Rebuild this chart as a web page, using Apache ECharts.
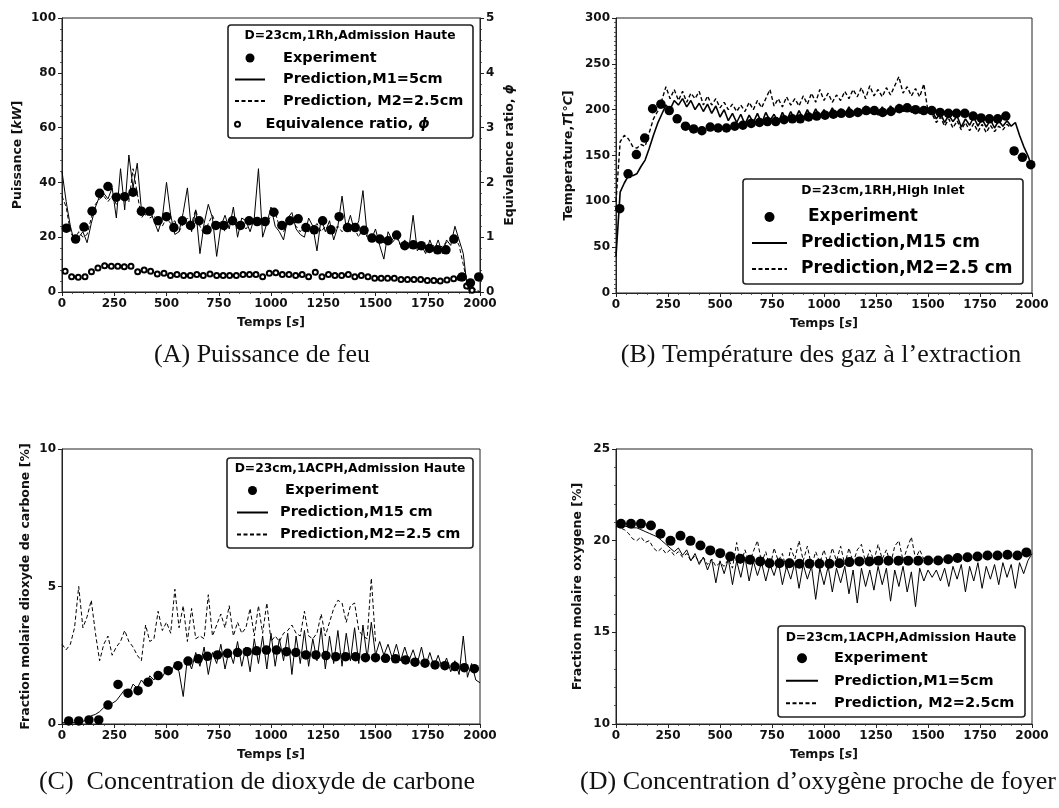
<!DOCTYPE html>
<html><head><meta charset="utf-8">
<script src="https://cdn.jsdelivr.net/npm/echarts@6/dist/echarts.min.js"></script>
<style>html,body{margin:0;padding:0;background:#fff}#c{width:1059px;height:808px}</style>
</head><body><div id="c"></div>
<script>
// ---------- shared time grid for prediction lines (s) ----------
const tLine = [0,20,40,60,80,100,120,140,160,180,200,220,240,260,280,300,320,340,360,380,
400,420,440,460,480,500,520,540,560,580,600,620,640,660,680,700,720,740,760,780,
800,820,840,860,880,900,920,940,960,980,1000,1020,1040,1060,1080,1100,1120,1140,1160,1180,
1200,1220,1240,1260,1280,1300,1320,1340,1360,1380,1400,1420,1440,1460,1480,1500,1520,1540,1560,1580,
1600,1620,1640,1660,1680,1700,1720,1740,1760,1780,1800,1820,1840,1860,1880,1900,1920,1940,1960,1980,2000];
const xTicks = [0,250,500,750,1000,1250,1500,1750,2000];

// ---------- (A) Puissance ----------
const expAT = [21,65,105,144,180,220,260,300,340,380,420,460,500,535,576,615,656,694,736,774,816,854,895,934,972,1014,1052,1090,1130,1167,1207,1247,1287,1326,1366,1403,1445,1483,1521,1560,1601,1640,1681,1719,1758,1797,1837,1875,1914,1954,1994];
const expAV = [23.3,19.3,23.7,29.5,36,38.5,34.6,34.8,36.4,29.5,29.5,26,27.5,23.5,26,24.3,26,22.7,24.3,24.3,26,24.3,26,25.7,25.7,29.1,24.3,26,26.7,23.5,22.7,26,22.7,27.5,23.5,23.5,22.5,19.7,19.3,18.7,20.8,16.9,17.2,16.9,15.9,15.4,15.4,19.3,5.5,3.3,5.5];
const predA1 = [44,33,24,18,20,22,18,25,31,35, 36,34,38,27,45,30,50,38,47,30, 28,30,26,22,27,40,28,21,22,29,
38,22,30,14,25,32,27,13,24,28, 23,31,20,27,26,22,27,45,20,25, 31,24,22,19,27,29,23,21,20,27,
24,15,27,22,26,19,24,35,23,28, 22,26,37,21,19,23,17,12,22,19, 21,17,19,16,28,15,17,14,19,15,
19,14,19,17,24,19,14,1,0,0, 0];
const predA2 = [35,31,22,19,22,20,21,27,32,34, 35,33,35,32,35,36,33,45,36,27, 29,27,28,25,24,27,25,26,22,25,
27,25,30,24,21,25,28,24,26,22, 27,25,24,26,23,25,27,24,26,25, 28,29,24,22,25,26,24,22,24,22,
23,25,22,24,22,23,24,22,24,22, 23,20,24,20,21,20,19,18,19,18, 20,17,16,17,16,17,16,15,16,17,
15,17,18,19,20,17,10,3,0,1, 0];
const phiT = [15,46,78,110,141,172,204,236,267,298,330,362,393,424,456,488,519,550,582,614,645,676,708,740,771,802,834,866,897,928,960,992,1023,1054,1086,1118,1149,1180,1212,1244,1275,1306,1338,1370,1401,1432,1464,1496,1527,1558,1590,1622,1653,1684,1716,1748,1779,1810,1842,1874,1905,1936,1962];
const phiV = [0.38,0.28,0.27,0.28,0.37,0.44,0.48,0.47,0.47,0.46,0.47,0.37,0.40,0.38,0.33,0.34,0.30,0.32,0.30,0.30,0.32,0.30,0.33,0.30,0.30,0.30,0.30,0.32,0.32,0.32,0.28,0.34,0.35,0.32,0.32,0.30,0.32,0.28,0.36,0.28,0.32,0.30,0.30,0.32,0.28,0.30,0.28,0.25,0.25,0.25,0.25,0.23,0.23,0.23,0.23,0.21,0.21,0.20,0.22,0.24,0.26,0.11,0.03];

// ---------- (B) Temperature ----------
const expBT = [18,58,98,138,176,216,256,294,334,373,413,453,491,531,571,610,650,690,728,768,808,848,886,926,965,1005,1045,1083,1123,1163,1203,1242,1282,1322,1362,1400,1440,1480,1518,1558,1598,1637,1677,1717,1755,1795,1835,1874,1914,1954,1994];
const expBV = [92,130,151,169,201,206,199,190,182,179,177,181,180,180,182,183,185,186,187,187,189,190,190,192,193,194,195,196,196,197,199,199,197,198,201,202,200,199,199,197,196,196,196,193,191,190,190,193,155,148,140];
const predB1 = [40,110,120,128,128,130,138,145,158,172, 185,195,205,200,210,205,212,203,210,200, 207,198,206,196,204,192,200,188,196,186,
195,184,194,186,196,185,197,188,195,186, 197,188,198,189,199,190,200,191,201,192, 200,193,202,192,201,194,203,193,202,195,
204,196,202,194,203,196,204,197,206,198, 205,197,203,196,201,197,198,190,196,186, 194,187,193,181,190,183,192,182,190,181,
189,180,188,182,188,182,186,172,160,150, 138];
const predB2 = [100,165,172,168,160,158,162,160,175,190, 198,210,225,212,222,210,220,208,218,212, 220,205,215,205,212,202,208,200,206,198,
205,198,208,200,210,202,212,222,204,212, 203,214,205,212,204,215,206,218,208,222, 210,218,208,216,210,220,212,222,214,224,
212,226,215,222,214,224,216,226,236,218, 225,215,223,214,228,198,195,186,192,182, 190,180,188,178,186,177,185,176,184,175,
183,176,182,178,184,180,null,null,null,null, null];

// ---------- (C) CO2 ----------
const expCT = [32,80,129,176,220,268,316,364,412,460,508,555,603,652,696,744,792,840,886,931,978,1026,1074,1119,1167,1215,1263,1310,1357,1405,1452,1500,1548,1596,1644,1689,1737,1785,1832,1880,1925,1973];
const expCV = [0.11,0.11,0.15,0.15,0.69,1.44,1.12,1.21,1.52,1.76,1.94,2.12,2.29,2.37,2.46,2.51,2.57,2.6,2.63,2.66,2.69,2.69,2.63,2.6,2.51,2.51,2.49,2.45,2.45,2.45,2.41,2.41,2.39,2.37,2.33,2.25,2.21,2.15,2.12,2.09,2.05,2.01];
const predC1 = [0.05,0.05,0.05,0.05,0.08,0.1,0.15,0.3,0.35,0.45, 0.6,0.7,0.75,0.85,1.05,1.25,1.1,1.45,1.3,1.6, 1.4,1.75,1.6,1.9,1.7,2.0,1.85,2.2,1.9,1.0,
2.4,2.0,2.6,2.1,2.8,1.8,2.6,2.2,2.9,2.0, 2.7,2.2,3.0,2.1,2.8,1.9,3.1,2.2,3.2,2.0, 3.3,2.1,3.1,2.3,3.3,1.8,3.2,2.2,3.4,2.1,
3.1,2.3,3.5,2.0,3.2,2.2,3.4,2.1,3.3,2.3, 3.5,2.2,3.6,2.4,3.7,2.5,3.0,2.5,2.9,2.4, 2.9,2.3,2.8,2.3,2.7,2.2,2.8,2.1,2.6,2.1,
2.5,2.0,2.4,1.9,2.3,1.8,3.2,1.7,2.2,1.6, 1.5];
const predC2 = [2.9,2.7,2.9,3.5,5.0,3.5,3.9,4.5,3.3,2.3, 2.9,3.2,2.5,2.8,3.0,3.4,3.0,2.8,2.5,2.3, 3.6,3.0,3.1,4.1,3.4,3.7,3.3,4.9,3.5,4.3,
3.0,4.2,3.1,3.2,3.1,4.7,3.2,3.6,4.0,3.5, 4.3,3.2,3.7,3.3,3.5,4.2,3.2,4.3,3.3,4.4, 3.0,3.2,3.0,3.3,3.4,3.6,3.3,3.2,4.1,3.2,
3.1,3.3,4.0,3.2,3.7,4.2,4.5,4.4,3.7,4.3, 4.4,3.4,3.2,3.1,5.3,3.0,null,null,null,null, null,null,null,null,null,null,null,null,null,null,
null,null,null,null,null,null,null,null,null,null, null];

// ---------- (D) O2 ----------
const expDT = [24,72,120,168,214,262,310,358,406,453,501,549,597,645,693,738,786,834,882,930,978,1026,1074,1122,1170,1218,1262,1310,1358,1405,1453,1501,1549,1597,1642,1690,1738,1786,1834,1882,1930,1973];
const expDV = [20.92,20.92,20.92,20.83,20.38,19.99,20.27,19.99,19.74,19.47,19.32,19.14,19.01,18.96,18.87,18.77,18.77,18.77,18.74,18.74,18.74,18.74,18.77,18.83,18.87,18.87,18.90,18.90,18.90,18.90,18.90,18.92,18.92,18.99,19.05,19.10,19.14,19.19,19.19,19.23,19.19,19.36];
const predD1 = [20.8,20.8,20.8,20.75,20.7,20.7,20.6,20.5,20.4,20.3, 20.2,20.0,19.8,19.6,19.4,19.6,19.2,19.5,18.9,19.3, 18.7,19.1,18.4,19.0,17.7,18.9,18.2,19.0,17.6,18.9,
18.0,19.1,17.8,18.9,18.1,18.8,17.8,18.7,18.1,18.9, 17.6,18.6,17.9,18.8,17.4,18.7,17.9,18.6,16.8,18.5, 17.6,18.6,17.2,18.5,17.7,18.6,17.1,18.4,16.6,18.5,
17.5,18.4,17.3,18.6,17.6,18.5,16.7,18.4,17.5,18.6, 17.2,18.3,16.4,18.5,17.8,18.4,18.0,18.4,17.8,18.5, 17.5,18.6,17.9,18.7,17.2,18.6,17.8,18.8,17.4,18.6,
17.9,18.7,17.6,18.8,18.0,18.7,17.4,18.8,18.2,18.9, 19.3];
const predD2 = [20.8,20.7,20.6,20.4,20.1,20.0,20.2,19.9,20.0,19.6, 19.4,19.6,19.3,19.5,19.2,19.4,19.1,19.3,18.9,19.2, 18.8,19.1,18.7,19.0,18.6,18.8,18.6,19.0,18.5,19.9,
18.7,19.5,18.8,19.4,20.0,18.8,19.4,18.5,19.6,18.9, 19.3,18.4,19.6,19.0,20.0,18.9,19.7,18.6,19.4,18.8, 19.5,18.7,19.6,18.9,19.7,18.7,19.6,18.8,19.5,19.8,
18.8,19.5,18.9,19.8,19.0,19.5,18.7,19.7,20.0,18.9, 19.6,20.2,19.0,19.5,19.0,null,null,null,null,null, null,null,null,null,null,null,null,null,null,null,
null,null,null,null,null,null,null,null,null,null, null];

// ---------- text ----------
const captions = ['(A) Puissance de feu', '(B) Température des gaz à l\u2019extraction',
  '(C)  Concentration de dioxyde de carbone', '(D) Concentration d\u2019oxygène proche de foyer'];
const legendTitles = ['D=23cm,1Rh,Admission Haute', 'D=23cm,1RH,High Inlet',
  'D=23cm,1ACPH,Admission Haute', 'D=23cm,1ACPH,Admission Haute'];

// ---------- build ----------
const zip = (a, b) => a.map((x, i) => [x, b[i]]);
const FONT = 'DejaVu Sans';
const BLACK = '#111';
const NAME_FS = 12.5;
const italicRich = { i: { fontStyle: 'italic', fontWeight: 'bold', fontFamily: FONT, fontSize: NAME_FS, color: BLACK } };

const grids = [
  { left: 62, top: 18, width: 418, height: 274 },
  { left: 616, top: 18, width: 416, height: 275 },
  { left: 62, top: 449, width: 418, height: 275 },
  { left: 616, top: 449, width: 416, height: 275 }
].map(g => Object.assign(g, { show: true, borderColor: '#222', borderWidth: 1, containLabel: false }));

const axisCommon = {
  axisLine: { show: true, onZero: false, lineStyle: { color: '#222', width: 1 } },
  axisTick: { show: true, inside: false, length: 4, lineStyle: { color: '#222', width: 1 } },
  minorTick: { show: true, splitNumber: 5, length: 2, lineStyle: { color: '#333', width: 0.8 } },
  splitLine: { show: false },
  minorSplitLine: { show: false },
  axisLabel: { fontFamily: FONT, fontWeight: 'bold', fontSize: 12, color: BLACK, margin: 6 },
  nameLocation: 'middle',
  nameTextStyle: { fontFamily: FONT, fontWeight: 'bold', fontSize: NAME_FS, color: BLACK, rich: italicRich }
};
function mk(extra) {
  const a = Object.assign({}, JSON.parse(JSON.stringify(axisCommon)), extra);
  a.axisLabel.formatter = v => String(v);
  return a;
}

const xAxes = [0, 1, 2, 3].map(gi => mk({
  type: 'value', gridIndex: gi, min: xTicks[0], max: xTicks[xTicks.length - 1], interval: 250,
  name: 'Temps [{i|s}]', nameGap: 24
}));

const yAxes = [
  mk({ type: 'value', gridIndex: 0, min: 0, max: 100, interval: 20, name: 'Puissance [{i|kW}]', nameGap: 38 }),
  mk({ type: 'value', gridIndex: 0, min: 0, max: 5, interval: 1, position: 'right', name: 'Equivalence ratio, {i|ϕ}', nameGap: 23 }),
  mk({ type: 'value', gridIndex: 1, min: 0, max: 300, interval: 50, name: 'Temperature,{i|T}[°{i|C}]', nameGap: 41 }),
  mk({ type: 'value', gridIndex: 2, min: 0, max: 10, interval: 5, name: 'Fraction molaire dioxyde de carbone [%]', nameGap: 30 }),
  mk({ type: 'value', gridIndex: 3, min: 10, max: 25, interval: 5, name: 'Fraction molaire oxygene [%]', nameGap: 32 })
];
yAxes[2].minorTick.splitNumber = 10;
yAxes[3].minorTick.show = false;

function expSeries(name, xi, yi, t, v, size) {
  return { type: 'scatter', name, xAxisIndex: xi, yAxisIndex: yi, data: zip(t, v), symbol: 'circle', symbolSize: size,
    itemStyle: { color: '#000', opacity: 1 }, z: 6, silent: true };
}
function lineSeries(name, xi, yi, v, dashed, width) {
  return { type: 'line', name, xAxisIndex: xi, yAxisIndex: yi, data: zip(tLine, v), symbol: 'none', showSymbol: false,
    connectNulls: false, lineStyle: { color: '#000', width: width, type: dashed ? [4, 2.5] : 'solid' },
    itemStyle: { color: '#000' }, z: dashed ? 3 : 4, silent: true, animation: false };
}

const series = [
  lineSeries('Prediction, M2=2.5cm', 0, 0, predA2, true, 1),
  lineSeries('Prediction,M1=5cm', 0, 0, predA1, false, 1),
  expSeries('Experiment', 0, 0, expAT, expAV, 9.5),
  { type: 'scatter', name: 'Equivalence ratio, ϕ', xAxisIndex: 0, yAxisIndex: 1, data: zip(phiT, phiV),
    symbol: 'emptyCircle', symbolSize: 5, itemStyle: { color: '#000', borderColor: '#000', borderWidth: 1, opacity: 1 }, z: 5, silent: true },

  lineSeries('Prediction,M2=2.5 cm', 1, 2, predB2, true, 1.4),
  lineSeries('Prediction,M15 cm', 1, 2, predB1, false, 1.6),
  expSeries('Experiment', 1, 2, expBT, expBV, 9.5),

  lineSeries('Prediction,M2=2.5 cm', 2, 3, predC2, true, 1),
  lineSeries('Prediction,M15 cm', 2, 3, predC1, false, 1),
  expSeries('Experiment', 2, 3, expCT, expCV, 9.5),

  lineSeries('Prediction, M2=2.5cm', 3, 4, predD2, true, 1),
  lineSeries('Prediction,M1=5cm', 3, 4, predD1, false, 1),
  expSeries('Experiment', 3, 4, expDT, expDV, 10)
];

const hideSym = { color: 'rgba(0,0,0,0)', borderColor: 'rgba(0,0,0,0)', borderWidth: 0, opacity: 0 };
function lg(left, top, itemW, itemH, fs, lh, items) {
  return { show: true, orient: 'vertical', left, top, itemWidth: itemW, itemHeight: itemH, itemGap: 0, padding: 0,
    selectedMode: false, z: 20, inactiveColor: '#000',
    textStyle: { fontFamily: FONT, fontWeight: 'bold', fontSize: fs, color: '#000', lineHeight: lh,
      rich: { i: { fontFamily: FONT, fontWeight: 'bold', fontStyle: 'italic', fontSize: fs, lineHeight: lh, color: '#000' } } },
    data: items.map(it => {
      const d = { name: it[0], textStyle: { padding: [0, 0, 0, it[2]] } };
      if (it[1]) d.icon = it[1]; else d.itemStyle = hideSym;
      return d;
    }) };
}
const legends = [
  lg(234, 47.25, 30, 9, 14.5, 21.5, [['Experiment', 'circle', 13], ['Prediction,M1=5cm', null, 13], ['Prediction, M2=2.5cm', null, 13]]),
  lg(234, 113.5, 30, 5, 14.5, 21.5, [['Equivalence ratio, ϕ', 'emptyCircle', 8]]),
  lg(751, 204, 35, 10, 17, 26, [['Experiment', 'circle', 16], ['Prediction,M15 cm', null, 9], ['Prediction,M2=2.5 cm', null, 9]]),
  lg(236, 479.5, 31, 9, 14.5, 22, [['Experiment', 'circle', 12], ['Prediction,M15 cm', null, 7], ['Prediction,M2=2.5 cm', null, 7]]),
  lg(785, 647, 32, 10, 14.5, 22.5, [['Experiment', 'circle', 11], ['Prediction,M1=5cm', null, 11], ['Prediction, M2=2.5cm', null, 11]])
];
legends[1].formatter = () => 'Equivalence ratio, {i|ϕ}';

const boxes = [[228, 25, 245, 113, 350, 36], [743, 179, 280, 105, 883, 191], [227, 458, 246, 90, 350, 469], [778, 626, 247, 91, 901, 638]];
const graphics = [];
boxes.forEach((b, i) => {
  graphics.push({ type: 'rect', z: 15, silent: true, shape: { x: b[0], y: b[1], width: b[2], height: b[3], r: 3 },
    style: { fill: '#fff', stroke: '#222', lineWidth: 1.6 } });
  graphics.push({ type: 'text', z: 21, silent: true, x: b[4], y: b[5],
    style: { text: legendTitles[i], font: 'bold 12.3px "DejaVu Sans"', fill: '#000', textAlign: 'center', textVerticalAlign: 'middle', verticalAlign: 'middle' } });
});
const capPos = [[262, 355], [821, 355], [257, 782], [818, 782]];
capPos.forEach((p, i) => {
  graphics.push({ type: 'text', z: 21, silent: true, x: p[0], y: p[1],
    style: { text: captions[i], font: '26px "Liberation Serif"', fill: '#111', textAlign: 'center', textVerticalAlign: 'middle', verticalAlign: 'middle' } });
});

const chart = echarts.init(document.getElementById('c'), null, { renderer: 'canvas', width: 1059, height: 808 });
chart.setOption({
  backgroundColor: '#fff',
  animation: false,
  grid: grids,
  xAxis: xAxes,
  yAxis: yAxes,
  legend: legends,
  graphic: graphics,
  series
});
</script></body></html>
